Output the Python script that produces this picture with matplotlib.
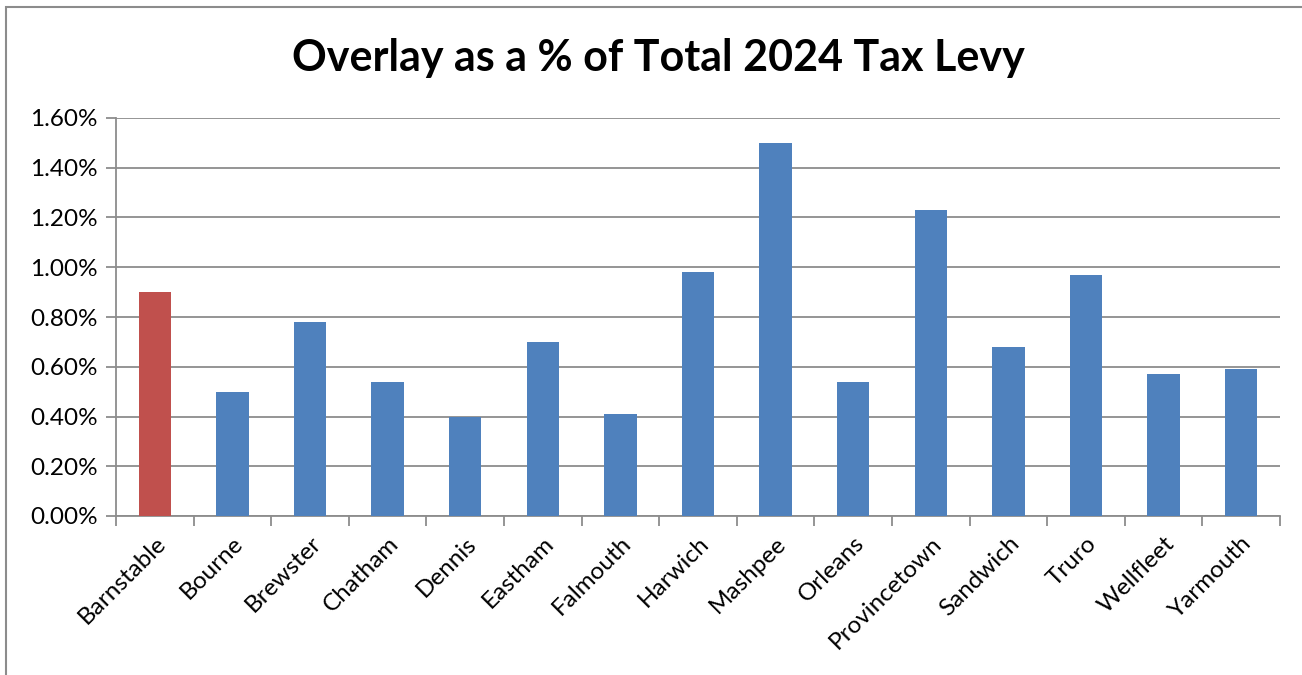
import numpy as np
import matplotlib
matplotlib.use('Agg')
import matplotlib.pyplot as plt
import matplotlib.ticker as ticker
from matplotlib.patches import Rectangle

# data (percent of total 2024 tax levy)
towns = ['Barnstable', 'Bourne', 'Brewster', 'Chatham', 'Dennis', 'Eastham',
         'Falmouth', 'Harwich', 'Mashpee', 'Orleans', 'Provincetown',
         'Sandwich', 'Truro', 'Wellfleet', 'Yarmouth']
overlay_pct = [0.90, 0.50, 0.78, 0.54, 0.40, 0.70, 0.41, 0.98, 1.50, 0.54,
               1.23, 0.68, 0.97, 0.57, 0.59]
highlight = 'Barnstable'

g_blue = '#4f81bd'
g_red = '#c0504d'
g_gridcolor = '#8c8c8c'

plt.rcParams['font.family'] = ['Lato', 'DejaVu Sans']

fig = plt.figure(figsize=(13.02, 6.75), dpi=100)
ax = fig.add_axes([116/1302, 1 - 516/675, (1280-116)/1302, (516-118)/675])

index = np.arange(len(towns))
colors = [g_red if t == highlight else g_blue for t in towns]
ax.bar(index, overlay_pct, 0.42, color=colors, zorder=3)

ax.set_xlim(-0.5, len(towns) - 0.5)
ax.set_ylim(0, 1.6)
ax.yaxis.set_major_locator(ticker.MultipleLocator(0.2))
ax.yaxis.set_major_formatter(ticker.FuncFormatter(lambda v, p: '%.2f%%' % v))
ax.yaxis.grid(color=g_gridcolor, linewidth=1.3, zorder=0)
ax.set_axisbelow(True)

for s in ['top', 'right']:
    ax.spines[s].set_visible(False)
for s in ['left', 'bottom']:
    ax.spines[s].set_color(g_gridcolor)
    ax.spines[s].set_linewidth(1.3)

ax.set_xticks(index)
ax.set_xticklabels(towns, rotation=45, ha='right', rotation_mode='anchor')
ax.xaxis.set_minor_locator(ticker.FixedLocator(np.arange(-0.5, len(towns), 1)))
ax.tick_params(axis='x', which='major', length=0, labelsize=17.5, pad=12)
ax.tick_params(axis='x', which='minor', length=7, width=1.3, color=g_gridcolor,
               direction='out')
ax.tick_params(axis='y', length=7, width=1.3, color=g_gridcolor, labelsize=17.5,
               pad=6)

fig.text(658/1302, 1 - 58/675, 'Overlay as a % of Total 2024 Tax Levy',
         ha='center', va='center', fontsize=31, fontweight='bold')

# outer chart border (runs off the right and bottom edges)
fig.patches.append(Rectangle((5.5/1302, 0 - 0.1), 1.2, 1 - 6.5/675 + 0.1,
                             transform=fig.transFigure, fill=False,
                             edgecolor='#8c8c8c', linewidth=1.5))

plt.savefig('out.png', dpi=100)
